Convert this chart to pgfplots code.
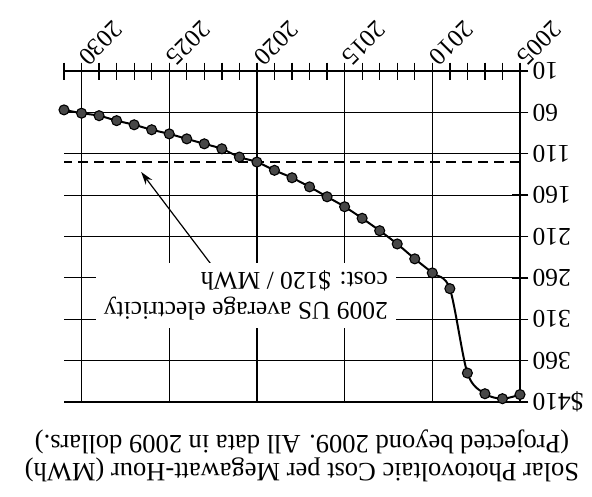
\documentclass[border=0pt]{standalone}
\usepackage{fontspec}
\setmainfont{Liberation Serif}
\usepackage{pgfplots}
\pgfplotsset{compat=1.18}
\usetikzlibrary{arrows.meta}
\begin{document}
\begin{tikzpicture}[x=1pt,y=1pt]
\useasboundingbox (0,0) rectangle (592,496);
\begin{axis}[
  at={(292pt,259.5pt)}, anchor=center,
  scale only axis, width=456pt, height=331pt,
  x dir=reverse, y dir=reverse,
  xmin=2005, xmax=2031, ymin=10, ymax=410,
  axis x line*=top, axis y line*=right,
  axis line style={line width=1.8pt},
  xtick={2005,2010,...,2030},
  minor xtick={2006,2007,...,2031},
  ytick={10,60,...,410},
  yticklabels={10,60,110,160,210,260,310,360,\$410},
  tick align=center, major tick length=17pt, minor tick length=17pt,
  every tick/.style={black, line width=1.3pt},
  xmajorgrids, ymajorgrids,
  major grid style={black, line width=1.2pt},
  /pgf/number format/assume math mode=true,
  /pgf/number format/1000 sep={},
  xticklabel style={rotate=225, anchor=east, inner sep=2pt, font=\fontsize{25}{25}\selectfont},
  yticklabel style={rotate=180, anchor=east, inner sep=4pt, font=\fontsize{25.5}{25}\selectfont},
  clip=false,
]
\addplot[black, line width=2.4pt, dash pattern=on 10pt off 6pt] coordinates {(2005,120) (2031,120)};
\addplot[black, line width=2pt, smooth, mark=*, mark size=5pt,
  mark options={fill=black!72, draw=black, line width=1.1pt, solid}] coordinates {
(2005,401) (2006,406) (2007,400) (2008,375) (2009,273) (2010,254) (2011,237)
(2012,219) (2013,203) (2014,188) (2015,174) (2016,162) (2017,150) (2018,139)
(2019,130) (2020,120) (2021,114) (2022,104) (2023,98) (2024,92) (2025,86)
(2026,81) (2027,75) (2028,70) (2029,64) (2030,61) (2031,57)};
\draw[-{Stealth[length=13pt,width=8pt]}, line width=1.2pt] (axis cs:2022.6,244) -- (axis cs:2026.6,132);
\end{axis}
\node[rotate=180, anchor=north west, fill=white, align=left, inner sep=8pt,
  font=\fontsize{25.5}{30}\selectfont] at (396,167.6) {2009 US average electricity\\cost: \$120 / MWh};
\node[rotate=180, anchor=base, font=\fontsize{26.5}{28}\selectfont] at (302,33) {Solar Photovoltaic Cost per Megawatt-Hour (MWh)};
\node[rotate=180, anchor=base, font=\fontsize{26.5}{28}\selectfont] at (302,61) {(Projected beyond 2009. All data in 2009 dollars.)};
\end{tikzpicture}
\end{document}
